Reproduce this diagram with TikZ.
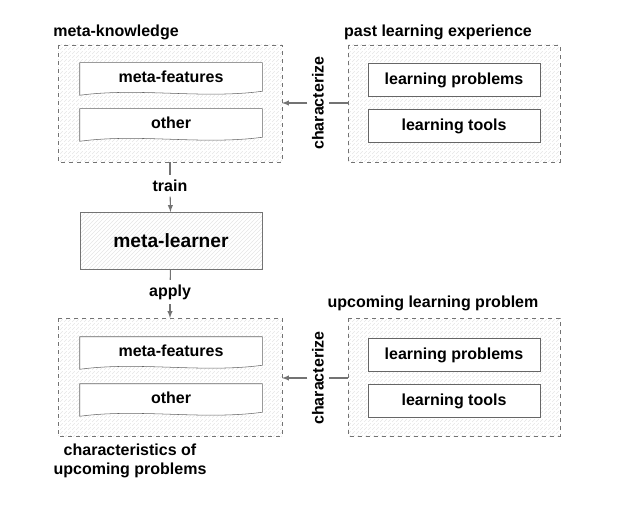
\documentclass[tikz,border=0pt]{standalone}
\usepackage{fontspec}
\setmainfont{Liberation Sans}
\usetikzlibrary{patterns,positioning}
\tikzset{
  hatch/.style={pattern=north east lines, pattern color=black!10},
  group/.style={draw=black!55, dashed, hatch},
  item/.style={draw=black!60, fill=white, minimum width=129pt, minimum height=25pt, font=\bfseries\large},
  doc/.style={fill=white, minimum width=136.5pt, minimum height=22.5pt, font=\bfseries\large},
  lbl/.style={font=\bfseries\large},
  conn/.style={draw=black!55, thick, -latex}
}
% document shape with a wavy bottom edge
\newcommand\docbox[2]{%
  \draw[draw=black!60, fill=white] (#1.north west) -- (#1.north east) -- ([yshift=1.5pt]#1.south east)
    .. controls ([xshift=-45pt,yshift=-4.5pt]#1.south east) and ([xshift=45pt,yshift=4.5pt]#1.south west) .. ([yshift=-1.5pt]#1.south west) -- cycle;
  \node[font=\bfseries\large] at ([yshift=1pt]#1.center) {#2};}
\begin{document}
\begin{tikzpicture}[x=0.75pt,y=-0.75pt]
  \useasboundingbox (0,0) rectangle (617,506);
  % groups
  \draw[group] (58,45) rectangle (282,162);
  \draw[group] (348,45) rectangle (560,162);
  \draw[group] (58,318) rectangle (282,436);
  \draw[group] (348,318) rectangle (560,436);
  \node[lbl] (mk) at (116,32) {meta-knowledge};
  \node[lbl] (past) at (438,32) {past learning experience};
  \node[lbl] (up) at (433,303) {upcoming learning problem};
  \node[lbl, align=center] (ch) at (130,461) {characteristics of\\upcoming problems};
  % documents
  \node[doc] (mf1) at (171,78) {};   \docbox{mf1}{meta-features}
  \node[doc] (ot1) at (171,124) {};  \docbox{ot1}{other}
  \node[doc] (mf2) at (171,352) {};  \docbox{mf2}{meta-features}
  \node[doc] (ot2) at (171,399) {};  \docbox{ot2}{other}
  % items
  \node[item] (lp1) at (454,80) {learning problems};
  \node[item] (lt1) at (454,126) {learning tools};
  \node[item] (lp2) at (454,355) {learning problems};
  \node[item] (lt2) at (454,401) {learning tools};
  % meta-learner
  \node[draw=black!55, hatch, minimum width=136.5pt, minimum height=43pt, font=\bfseries\Large] (ml) at (171,241) {meta-learner};
  % connectors
  \coordinate (k1) at (170,162);
  \coordinate (k2) at (170,318);
  \node[lbl] (train) at (170,186) {train};
  \node[lbl] (apply) at (170,292) {apply};
  \draw[draw=black!55, thick] (k1) -- (train);
  \draw[conn] (train) -- (ml);
  \draw[draw=black!55, thick] (ml) -- (apply);
  \draw[conn] (apply) -- (k2);
  \coordinate (p1) at (348,103);  \coordinate (q1) at (282,103);
  \coordinate (p2) at (348,378);  \coordinate (q2) at (282,378);
  \node[lbl, rotate=90] (c1) at (318,103) {characterize};
  \node[lbl, rotate=90] (c2) at (318,378) {characterize};
  \draw[draw=black!55, thick] (p1) -- (c1.south);
  \draw[conn] (c1.north) -- (q1);
  \draw[draw=black!55, thick] (p2) -- (c2.south);
  \draw[conn] (c2.north) -- (q2);
\end{tikzpicture}
\end{document}
